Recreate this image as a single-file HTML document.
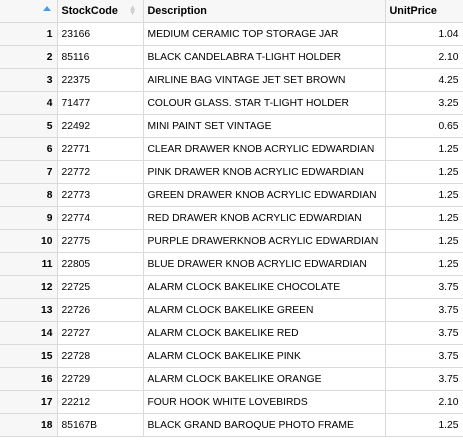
<!DOCTYPE html>
<html><head><meta charset="utf-8"><style>
body{margin:0;background:#fff;width:463px;height:440px;overflow:hidden;font-family:"Liberation Sans",sans-serif;font-size:10.3px;color:#000}
table{border-collapse:collapse;table-layout:fixed;width:463px}
td,th{border:1px solid #dadada;height:22px;padding:0 4px;white-space:nowrap;overflow:hidden}
th{text-align:left;font-weight:bold;background:#f7f7f7;height:22px;position:relative;font-size:10.8px}
td.i{background:#f7f7f7;text-align:right;font-weight:bold}
td.n{text-align:right}
tr:first-child th{border-top:none}
th:first-child,td:first-child{border-left:none}
.up{position:absolute;right:6px;top:6px;width:0;height:0;border-left:4px solid transparent;border-right:4px solid transparent;border-bottom:5px solid #4a9be0}
.sort{position:absolute;right:6px;top:5px;color:#ccc;font-size:8px;line-height:5px}
</style></head><body>
<table>
<colgroup><col style="width:57px"><col style="width:86px"><col style="width:242px"><col style="width:78px"></colgroup>
<thead><tr>
<th><span class="up"></span></th>
<th>StockCode<span class="sort">▲<br>▼</span></th>
<th>Description</th>
<th>UnitPrice</th>
</tr></thead>
<tbody id="tb"></tbody></table>
<script>
const codes=["23166","85116","22375","71477","22492","22771","22772","22773","22774","22775","22805","22725","22726","22727","22728","22729","22212","85167B"];
const descs=["MEDIUM CERAMIC TOP STORAGE JAR","BLACK CANDELABRA T-LIGHT HOLDER","AIRLINE BAG VINTAGE JET SET BROWN","COLOUR GLASS. STAR T-LIGHT HOLDER","MINI PAINT SET VINTAGE","CLEAR DRAWER KNOB ACRYLIC EDWARDIAN","PINK DRAWER KNOB ACRYLIC EDWARDIAN","GREEN DRAWER KNOB ACRYLIC EDWARDIAN","RED DRAWER KNOB ACRYLIC EDWARDIAN","PURPLE DRAWERKNOB ACRYLIC EDWARDIAN","BLUE DRAWER KNOB ACRYLIC EDWARDIAN","ALARM CLOCK BAKELIKE CHOCOLATE","ALARM CLOCK BAKELIKE GREEN","ALARM CLOCK BAKELIKE RED","ALARM CLOCK BAKELIKE PINK","ALARM CLOCK BAKELIKE ORANGE","FOUR HOOK WHITE LOVEBIRDS","BLACK GRAND BAROQUE PHOTO FRAME"];
const prices=["1.04","2.10","4.25","3.25","0.65","1.25","1.25","1.25","1.25","1.25","1.25","3.75","3.75","3.75","3.75","3.75","2.10","1.25"];
const tb=document.getElementById('tb');
codes.forEach((c,i)=>{
const tr=document.createElement('tr');


const vals=[[String(i+1),'i','row-index'],[c,'','stock-code-cell'],[descs[i],'','description-cell'],[prices[i],'n','unit-price-cell']];
vals.forEach(v=>{const td=document.createElement('td');td.textContent=v[0];if(v[1])td.className=v[1];


tr.appendChild(td);});
tb.appendChild(tr);});
</script>
</body></html>
